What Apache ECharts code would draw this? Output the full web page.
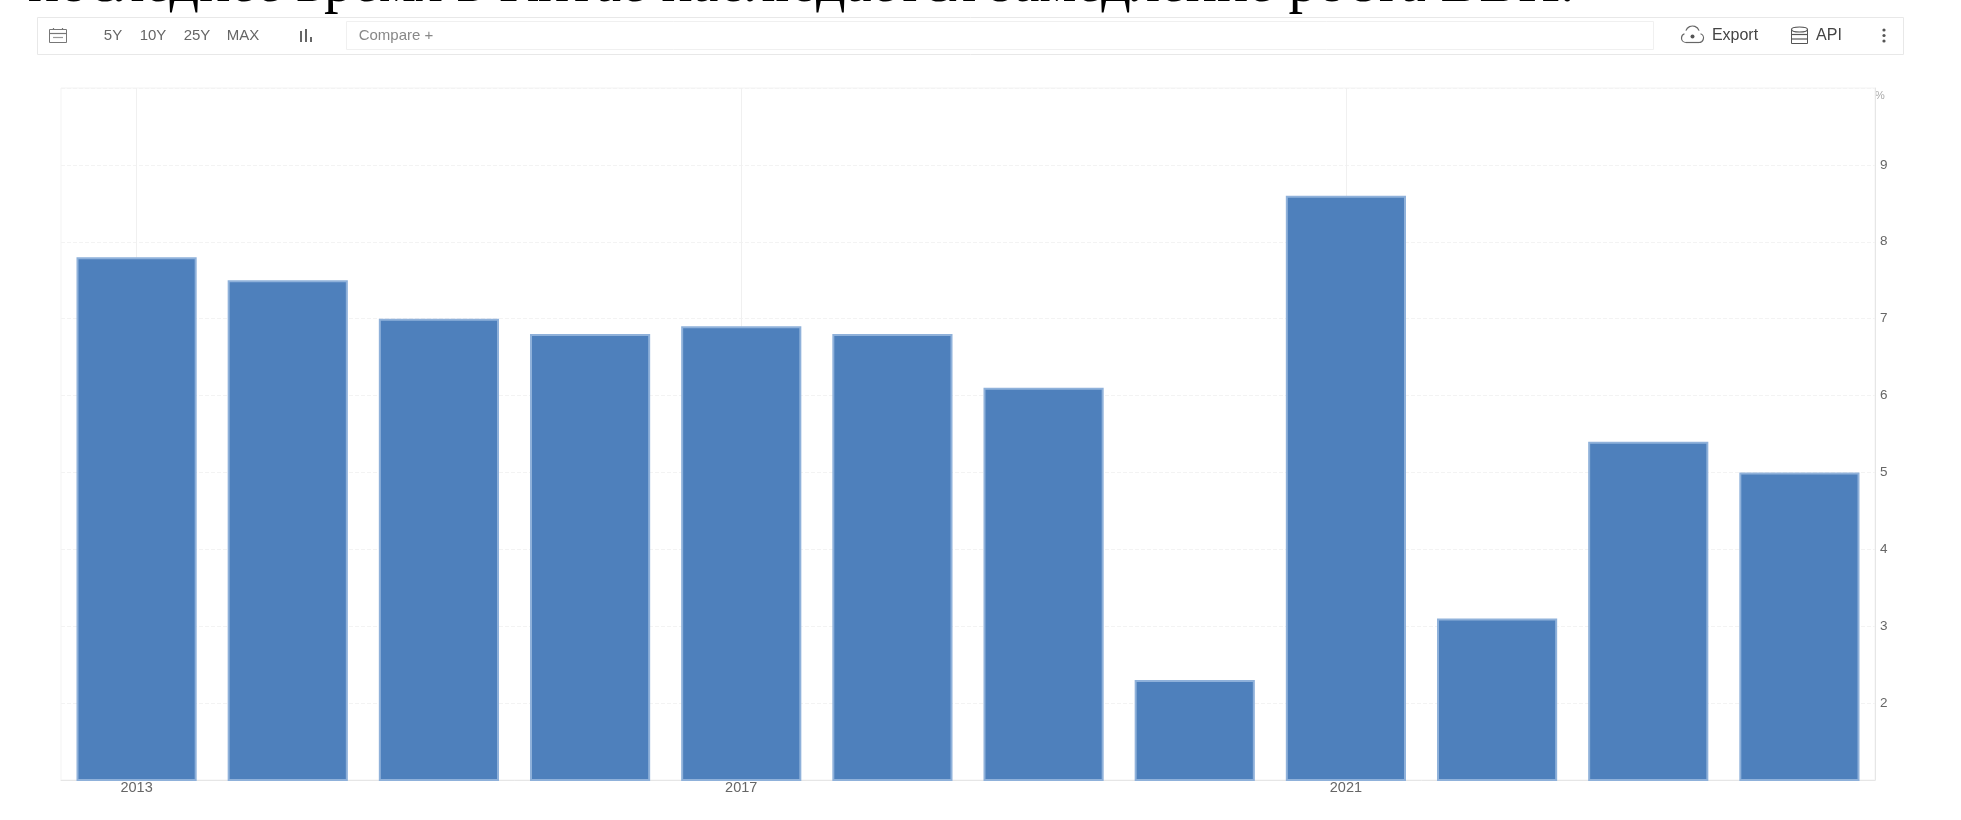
<!DOCTYPE html>
<html>
<head>
<meta charset="utf-8">
<title>China GDP growth</title>
<script src="https://cdn.jsdelivr.net/npm/echarts@6/dist/echarts.min.js"></script>
<style>
  html, body { margin: 0; padding: 0; background: #fff; }
  #chart { width: 1961px; height: 820px; }
</style>
</head>
<body>
<div id="chart"></div>
<script>
  var years = ['2013', '2014', '2015', '2016', '2017', '2018', '2019', '2020', '2021', '2022', '2023', '2024']
  var growth = [7.8, 7.5, 7.0, 6.8, 6.9, 6.8, 6.1, 2.3, 8.6, 3.1, 5.4, 5.0]
  var yearLabels = ['2013', '2017', '2021']
  var rangeLabels = ['5Y', '10Y', '25Y', 'MAX']
  var headingText = 'последнее время в Китае наблюдается замедление роста ВВП.'

  var sans = '"Liberation Sans", Arial, sans-serif'
  var showYear = function (idx) { return yearLabels.indexOf(years[idx]) >= 0 }

  function label (text, x, color, size) {
    return {
      type: 'text',
      x: x,
      y: 36,
      style: { text: text, fill: color || '#666', font: (size || 15) + 'px ' + sans, textAlign: 'center', textVerticalAlign: 'middle' }
    }
  }
  function box (x, y, w, h, stroke, fill) {
    return { type: 'rect', shape: { x: x, y: y, width: w, height: h }, style: { fill: fill || 'none', stroke: stroke, lineWidth: 1 } }
  }
  function bar (x, y, w, h, color) {
    return { type: 'rect', shape: { x: x, y: y, width: w, height: h }, style: { fill: color } }
  }
  function line (x1, y1, x2, y2, color) {
    return { type: 'line', shape: { x1: x1, y1: y1, x2: x2, y2: y2 }, style: { stroke: color, lineWidth: 1.2 } }
  }
  function dot (cx, cy, r, color) {
    return { type: 'circle', shape: { cx: cx, cy: cy, r: r }, style: { fill: color } }
  }
  function arc (cx, cy, r, from, to, color) {
    return {
      type: 'arc',
      shape: { cx: cx, cy: cy, r: r, startAngle: from * Math.PI / 180, endAngle: to * Math.PI / 180 },
      style: { stroke: color, fill: 'none', lineWidth: 1.2 }
    }
  }
  function ellipse (cx, cy, rx, ry, color) {
    return { type: 'ellipse', shape: { cx: cx, cy: cy, rx: rx, ry: ry }, style: { stroke: color, fill: '#fff', lineWidth: 1.2 } }
  }

  var rangeX = [113, 153, 197, 243]
  var toolbar = [
    {
      type: 'text',
      x: 28,
      y: 15,
      style: { text: headingText, fill: '#000', font: '58.2px "Liberation Serif", serif', textAlign: 'left', textVerticalAlign: 'bottom' }
    },
    box(37.5, 17.5, 1866, 37, '#e8e8e8', '#fff'),
    box(346.5, 21.5, 1307, 28, '#f0f0f0', '#fff'),
    // calendar
    box(49.5, 29.5, 17, 13, '#777'),
    line(49, 33.5, 67, 33.5, '#777'),
    line(53.5, 28, 53.5, 30, '#777'),
    line(62.5, 28, 62.5, 30, '#777'),
    line(53, 37.5, 63, 37.5, '#999'),
    // chart type
    bar(300, 31, 2, 11, '#666'),
    bar(305, 29, 2, 13, '#666'),
    bar(310, 37, 2, 5, '#666'),
    label('Compare +', 396, '#888'),
    // cloud
    arc(1692.5, 33, 7, 200, 340, '#666'),
    arc(1686, 38, 4.5, 90, 250, '#666'),
    arc(1699, 38, 4.5, 290, 90, '#666'),
    line(1686, 42.5, 1699, 42.5, '#666'),
    dot(1692.5, 36.5, 2, '#555'),
    label('Export', 1735, '#444', 16),
    // database
    box(1791.5, 29.5, 16, 14, '#555'),
    ellipse(1799.5, 29.5, 8, 2.5, '#555'),
    line(1792, 34.5, 1807, 34.5, '#555'),
    line(1792, 39, 1807, 39, '#555'),
    label('API', 1829, '#444', 16),
    dot(1884, 30, 1.6, '#555'),
    dot(1884, 35.5, 1.6, '#555'),
    dot(1884, 41, 1.6, '#555')
  ]
  rangeLabels.forEach(function (txt, i) {
    toolbar.push(label(txt, rangeX[i]))
  })

  var chart = echarts.init(document.getElementById('chart'), null, { renderer: 'canvas' })
  chart.setOption({
    animation: false,
    backgroundColor: '#fff',
    graphic: toolbar,
    grid: {
      left: 61,
      right: 86,
      top: 88,
      bottom: 40,
      show: true,
      borderColor: '#f3f3f3',
      borderWidth: 1
    },
    xAxis: {
      type: 'category',
      data: years,
      axisLine: { lineStyle: { color: '#e6e6e6' } },
      axisTick: { show: false, alignWithLabel: true, interval: showYear },
      axisLabel: {
        interval: showYear,
        color: '#666',
        fontSize: 14.5,
        fontFamily: sans,
        margin: 0,
        verticalAlign: 'top'
      },
      splitLine: {
        show: true,
        alignWithLabel: true,
        interval: showYear,
        lineStyle: { color: '#f0f0f0' }
      }
    },
    yAxis: {
      type: 'value',
      position: 'right',
      min: 1,
      max: 10,
      interval: 1,
      name: '%',
      nameLocation: 'end',
      nameGap: -13,
      nameTextStyle: { color: '#aaa', fontSize: 11, fontFamily: sans, align: 'left', padding: [0, 0, 0, 0] },
      axisLine: { show: true, lineStyle: { color: '#e6e6e6' } },
      axisTick: { show: false },
      axisLabel: {
        margin: 5,
        color: '#666',
        fontSize: 13.5,
        fontFamily: sans,
        formatter: function (v) { return v >= 2 && v <= 9 ? String(v) : '' }
      },
      splitLine: { show: true, lineStyle: { color: '#f3f3f3', type: 'dashed' } }
    },
    series: [{
      type: 'bar',
      data: growth,
      barWidth: '79.5%',
      itemStyle: { color: '#4e80bc', borderColor: '#8fb1da', borderWidth: 2 }
    }]
  })
</script>
</body>
</html>
